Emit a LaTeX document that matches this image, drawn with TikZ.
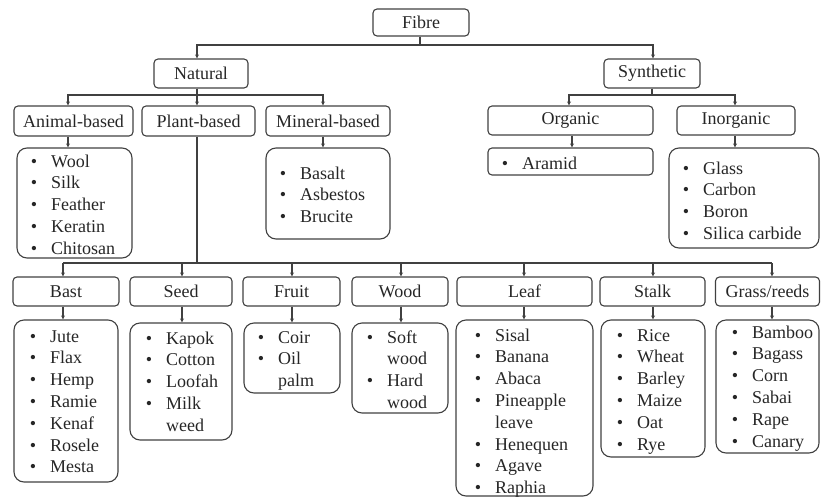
\documentclass[tikz,border=0pt]{standalone}
\usepackage{fontspec}
\setmainfont{Liberation Serif}
\usetikzlibrary{arrows.meta}
\newcommand\bl{\llap{\textbullet\hspace{14pt}}}
\begin{document}
\begin{tikzpicture}[x=1pt,y=-1pt,
  txt/.style={font=\fontsize{18}{21.8}\selectfont, text=black!85},
  hbox/.style={draw=black!75, line width=1.1pt, rounded corners=4pt, inner sep=0pt, txt},
  lbox/.style={draw=black!75, line width=1.1pt, rounded corners=10pt, inner sep=0pt},
  ltxt/.style={anchor=base west, inner sep=0pt, txt},
  line/.style={draw=black!75, line width=1.1pt},
  arr/.style={line, -{Stealth[length=4pt,width=4pt]}}]
\useasboundingbox (0,0) rectangle (821,498);
% header boxes
\node[hbox, minimum width=96pt, minimum height=27pt] (fibre) at (421,22.5) {Fibre};
\node[hbox, minimum width=94pt, minimum height=29pt] (natural) at (201,73.5) {Natural};
\node[hbox, minimum width=96pt, minimum height=29pt] (synthetic) at (652,73.5) {Synthetic};
\node[hbox, minimum width=119pt, minimum height=30pt] (animal) at (73.5,121) {Animal-based};
\node[hbox, minimum width=113pt, minimum height=30pt] (plant) at (198.5,121) {Plant-based};
\node[hbox, minimum width=124pt, minimum height=30pt] (mineral) at (328,121) {Mineral-based};
\node[hbox, minimum width=165pt, minimum height=29pt] (organic) at (570.5,120.5) {Organic};
\node[hbox, minimum width=118pt, minimum height=29pt] (inorganic) at (736,120.5) {Inorganic};
\node[hbox, minimum width=106pt, minimum height=29pt] (bast) at (66,291.5) {Bast};
\node[hbox, minimum width=102pt, minimum height=29pt] (seed) at (181,291.5) {Seed};
\node[hbox, minimum width=97pt, minimum height=29pt] (fruit) at (291.5,291.5) {Fruit};
\node[hbox, minimum width=96pt, minimum height=29pt] (wood) at (400,291.5) {Wood};
\node[hbox, minimum width=135pt, minimum height=29pt] (leaf) at (524.5,291.5) {Leaf};
\node[hbox, minimum width=105pt, minimum height=29pt] (stalk) at (652.5,291.5) {Stalk};
\node[hbox, minimum width=104pt, minimum height=29pt] (grass) at (767.5,291.5) {Grass/reeds};
% list boxes
\node[lbox, minimum width=115pt, minimum height=110pt] (animallist) at (74.5,203) {};
\node[lbox, minimum width=124pt, minimum height=91pt] (minerallist) at (328,193.5) {};
\node[lbox, rounded corners=4pt, minimum width=165pt, minimum height=27pt] (aramidlist) at (570.5,161.5) {};
\node[lbox, minimum width=150pt, minimum height=100pt] (inorglist) at (744,198) {};
\node[lbox, minimum width=104pt, minimum height=162pt] (bastlist) at (66,401) {};
\node[lbox, minimum width=102pt, minimum height=117pt] (seedlist) at (181,381.5) {};
\node[lbox, minimum width=96pt, minimum height=70pt] (fruitlist) at (292,358) {};
\node[lbox, minimum width=96pt, minimum height=90pt] (woodlist) at (400,368) {};
\node[lbox, minimum width=137pt, minimum height=176pt] (leaflist) at (524.5,408) {};
\node[lbox, minimum width=104pt, minimum height=137pt] (stalklist) at (653,388.5) {};
\node[lbox, minimum width=103pt, minimum height=133pt] (grasslist) at (767.5,386.5) {};
% list texts
\node[ltxt] (animaltxt) at (51,167) {\begin{tabular}[t]{@{}l@{}}\bl Wool\\ \bl Silk\\ \bl Feather\\ \bl Keratin\\ \bl Chitosan\end{tabular}};
\node[ltxt] (mineraltxt) at (300,179) {\begin{tabular}[t]{@{}l@{}}\bl Basalt\\ \bl Asbestos\\ \bl Brucite\end{tabular}};
\node[ltxt] (aramidtxt) at (522,169) {\begin{tabular}[t]{@{}l@{}}\bl Aramid\end{tabular}};
\node[ltxt] (inorgtxt) at (703,174) {\begin{tabular}[t]{@{}l@{}}\bl Glass\\ \bl Carbon\\ \bl Boron\\ \bl Silica carbide\end{tabular}};
\node[ltxt] (basttxt) at (50,342) {\begin{tabular}[t]{@{}l@{}}\bl Jute\\ \bl Flax\\ \bl Hemp\\ \bl Ramie\\ \bl Kenaf\\ \bl Rosele\\ \bl Mesta\end{tabular}};
\node[ltxt] (seedtxt) at (166,344) {\begin{tabular}[t]{@{}l@{}}\bl Kapok\\ \bl Cotton\\ \bl Loofah\\ \bl Milk\\ weed\end{tabular}};
\node[ltxt] (fruittxt) at (278,343) {\begin{tabular}[t]{@{}l@{}}\bl Coir\\ \bl Oil\\ palm\end{tabular}};
\node[ltxt] (woodtxt) at (387,343) {\begin{tabular}[t]{@{}l@{}}\bl Soft\\ wood\\ \bl Hard\\ wood\end{tabular}};
\node[ltxt] (leaftxt) at (495,341) {\begin{tabular}[t]{@{}l@{}}\bl Sisal\\ \bl Banana\\ \bl Abaca\\ \bl Pineapple\\ leave\\ \bl Henequen\\ \bl Agave\\ \bl Raphia\end{tabular}};
\node[ltxt] (stalktxt) at (637,341) {\begin{tabular}[t]{@{}l@{}}\bl Rice\\ \bl Wheat\\ \bl Barley\\ \bl Maize\\ \bl Oat\\ \bl Rye\end{tabular}};
\node[ltxt] (grasstxt) at (752,338) {\begin{tabular}[t]{@{}l@{}}\bl Bamboo\\ \bl Bagass\\ \bl Corn\\ \bl Sabai\\ \bl Rape\\ \bl Canary\end{tabular}};
% bus coordinates
\coordinate (fbL) at (197,45);
\coordinate (fbR) at (653,45);
\coordinate (nbA) at (68,95);
\coordinate (nbP) at (197,95);
\coordinate (nbM) at (323,95);
\coordinate (sbO) at (569,95);
\coordinate (sbI) at (735,95);
\coordinate (pb) at (197,263);
\coordinate (pbBast) at (63,263);
\coordinate (pbSeed) at (182,263);
\coordinate (pbFruit) at (292,263);
\coordinate (pbWood) at (401,263);
\coordinate (pbLeaf) at (524,263);
\coordinate (pbStalk) at (653,263);
\coordinate (pbGrass) at (772,263);
% connectors
\draw[arr] (fibre.south -| 420,0) |- (fbL) -- (fbL |- natural.north);
\draw[arr] (fibre.south -| 420,0) |- (fbR) -- (fbR |- synthetic.north);
\draw[arr] (natural.south -| nbP) -- (nbP) -| (nbA |- animal.north);
\draw[arr] (natural.south -| nbP) -- (nbP |- plant.north);
\draw[arr] (nbP) -| (nbM |- mineral.north);
\draw[arr] (synthetic.south -| 652,0) |- (sbO) -- (sbO |- organic.north);
\draw[arr] (synthetic.south -| 652,0) |- (sbI) -- (sbI |- inorganic.north);
\draw[arr] (animal.south -| nbA) -- (nbA |- animallist.north);
\draw[arr] (mineral.south -| nbM) -- (nbM |- minerallist.north);
\draw[arr] (organic.south -| 572,0) -- (aramidlist.north -| 572,0);
\draw[arr] (inorganic.south -| sbI) -- (sbI |- inorglist.north);
\draw[line] (plant.south -| pb) -- (pb);
\draw[line] (pbBast) -- (pbGrass);
\foreach \n/\c in {bast/pbBast,seed/pbSeed,fruit/pbFruit,wood/pbWood,leaf/pbLeaf,stalk/pbStalk,grass/pbGrass}{
  \draw[arr] (\c) -- (\c |- \n.north);
  \draw[arr] (\c |- \n.south) -- (\c |- \n list.north);
}
\end{tikzpicture}
\end{document}
